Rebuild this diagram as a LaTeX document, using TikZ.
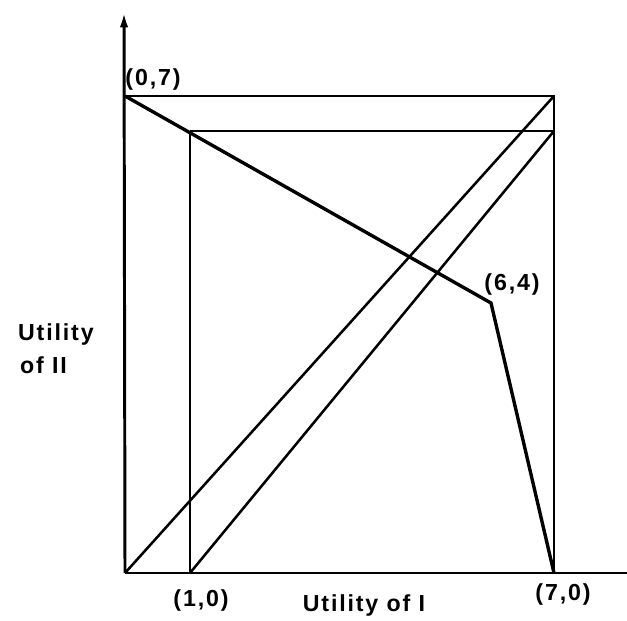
\documentclass[tikz,border=0pt]{standalone}
\usepackage{fontspec}
\setmainfont{Liberation Sans}
\newfontfamily\lblfont[LetterSpace=8]{Liberation Sans}
\usetikzlibrary{positioning,arrows.meta}
\tikzset{
    axis/.style={draw, line width=4.2pt},
    frame/.style={draw, line width=4.2pt},
    diag/.style={draw, line width=3.6pt},
    curve/.style={draw, line width=4.8pt, line join=miter},
    lbl/.style={font=\lblfont\bfseries\fontsize{33}{38}\selectfont, inner sep=0pt},
}

\begin{document}
\begin{tikzpicture}[x=0.05cm, y=-0.05cm]
        \useasboundingbox (0,0) rectangle (627,621);
        % corner points of the regions
        \coordinate (O) at (125,573);
        \coordinate (Ytop) at (124,12);
        \coordinate (Xend) at (627,573);
        \coordinate (A) at (125,96);
        \coordinate (B) at (554,96);
        \coordinate (C) at (554,573);
        \coordinate (D) at (190,131);
        \coordinate (E) at (554,131);
        \coordinate (F) at (190,573);
        \coordinate (G) at (491,303);

        % axes
        \draw[axis, -{Latex[length=22pt, width=12pt]}] (O) -- (Ytop);
        \draw[axis] (O) -- (Xend);

        % boxes
        \draw[frame] (A) -- (B) -- (C);
        \draw[frame] (D) -- (E);
        \draw[frame] (D) -- (F);

        % diagonals
        \draw[diag] (O) -- (B);
        \draw[diag] (F) -- (E);

        % frontier
        \draw[curve] (A) -- (G) -- (C);

        % labels
        \foreach \name/\x/\y/\txt in {l07/153/80/{(0,7)}, l64/512/285/{(6,4)}, l10/201/600/{(1,0)}, l70/563/594/{(7,0)}, lx/364/605/{Utility of I}}
            \node[lbl] (\name) at (\x,\y) {\txt};
        \node[lbl, anchor=west] (ly1) at (18,335) {Utility};
        \node[lbl, anchor=west] (ly2) at (20,365) {of II};
    \end{tikzpicture}
\end{document}
